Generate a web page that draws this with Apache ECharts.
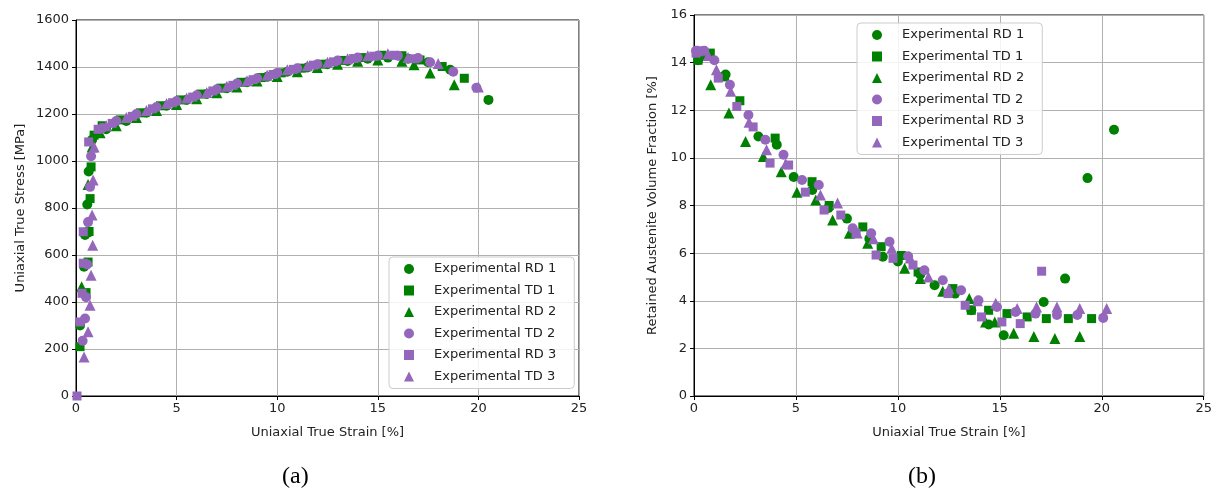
<!DOCTYPE html>
<html>
<head>
<meta charset="utf-8">
<title>Stress strain and retained austenite</title>
<script src="https://cdn.jsdelivr.net/npm/echarts@6.0.0/dist/echarts.min.js"></script>
<style>
  html, body { margin: 0; padding: 0; background: #fff; }
  #chart { width: 1215px; height: 492px; }
</style>
</head>
<body>
<div id="chart"></div>
<script>
  // series names, colours, markers
  var names = ['Experimental RD 1', 'Experimental TD 1', 'Experimental RD 2',
               'Experimental TD 2', 'Experimental RD 3', 'Experimental TD 3']
  var colors = ['#008000', '#008000', '#008000', '#9467bd', '#9467bd', '#9467bd']
  var symbols = ['circle', 'rect', 'triangle', 'circle', 'rect', 'triangle']

  var xTicks = [0, 5, 10, 15, 20, 25]
  var stressTicks = [0, 200, 400, 600, 800, 1000, 1200, 1400, 1600]
  var fractionTicks = [0, 2, 4, 6, 8, 10, 12, 14, 16]

  // (a) uniaxial true strain [%], true stress [MPa]
  var stressRD1 = [[0.2, 300], [0.4, 550], [0.45, 685], [0.56, 815], [0.63, 955], [0.8, 1090],
    [1.5, 1135], [2.5, 1170], [3.5, 1205], [4.5, 1235], [5.5, 1260], [6.5, 1285], [7.5, 1310],
    [8.5, 1335], [9.5, 1358], [10.5, 1380], [11.5, 1398], [12.5, 1412], [13.5, 1426], [14.5, 1435],
    [15.5, 1440], [16.5, 1435], [17.5, 1420], [18.6, 1388], [20.5, 1260]]
  var stressTD1 = [[0.2, 210], [0.5, 440], [0.6, 570], [0.65, 700], [0.7, 840], [0.75, 975], [0.9, 1110],
    [1.3, 1150], [2.2, 1175], [3.2, 1205], [4.2, 1235], [5.2, 1260], [6.2, 1285], [7.2, 1310],
    [8.2, 1335], [9.2, 1355], [10.2, 1375], [11.2, 1395], [12.2, 1412], [13.2, 1428], [14.2, 1440],
    [15.2, 1450], [16.2, 1448], [17.1, 1430], [18.2, 1402], [19.3, 1352]]
  var stressRD2 = [[0.28, 465], [0.5, 700], [0.6, 900], [0.8, 1060], [1.2, 1120], [2.0, 1150],
    [3.0, 1185], [4.0, 1215], [5.0, 1240], [6.0, 1265], [7.0, 1290], [8.0, 1315], [9.0, 1340],
    [10.0, 1360], [11.0, 1380], [12.0, 1398], [13.0, 1412], [14.0, 1425], [15.0, 1430], [16.2, 1425],
    [16.8, 1410], [17.6, 1374], [18.8, 1324]]
  var stressTD2 = [[0.33, 235], [0.45, 330], [0.5, 420], [0.55, 560], [0.6, 740], [0.7, 890], [0.75, 1020],
    [1.3, 1140], [2.0, 1170], [3.0, 1200], [4.0, 1230], [5.0, 1255], [6.0, 1280], [7.0, 1305],
    [8.0, 1330], [9.0, 1352], [10.0, 1375], [11.0, 1395], [12.0, 1412], [13.0, 1428], [14.0, 1440],
    [15.0, 1448], [16.0, 1448], [17.0, 1438], [17.6, 1420], [18.75, 1380], [19.9, 1312]]
  var stressRD3 = [[0.05, 0], [0.2, 315], [0.3, 437], [0.36, 565], [0.36, 699], [0.63, 1081],
    [1.1, 1135], [1.8, 1160], [2.8, 1190], [3.8, 1222], [4.8, 1248], [5.8, 1272], [6.8, 1298],
    [7.8, 1322], [8.8, 1346], [9.8, 1368], [10.8, 1390], [11.8, 1408], [12.8, 1422], [13.8, 1436],
    [14.8, 1446], [15.8, 1450], [16.8, 1435]]
  var stressTD3 = [[0.4, 166], [0.6, 273], [0.7, 386], [0.75, 514], [0.83, 642], [0.8, 770], [0.85, 919],
    [0.9, 1060], [1.5, 1150], [2.5, 1185], [3.5, 1215], [4.5, 1245], [5.5, 1268], [6.5, 1292],
    [7.5, 1318], [8.5, 1342], [9.5, 1365], [10.5, 1388], [11.5, 1405], [12.5, 1420], [13.5, 1435],
    [14.5, 1448], [15.5, 1456], [16.5, 1440], [18.0, 1415], [20.0, 1315]]

  // (b) uniaxial true strain [%], retained austenite volume fraction [%]
  var fractionRD1 = [[0.2, 14.1], [0.6, 14.3], [1.55, 13.5], [3.16, 10.9], [4.06, 10.55], [4.89, 9.2],
    [5.8, 8.65], [6.6, 7.9], [7.5, 7.45], [8.6, 6.6], [9.26, 5.85], [10.0, 5.65], [11.1, 5.1],
    [11.8, 4.65], [12.8, 4.3], [13.6, 3.6], [14.45, 3.0], [15.19, 2.55], [17.15, 3.95], [18.2, 4.93],
    [19.3, 9.15], [20.6, 11.18]]
  var fractionTD1 = [[0.2, 14.1], [0.8, 14.4], [1.5, 13.4], [2.25, 12.4], [3.98, 10.83], [5.79, 9.0],
    [6.63, 8.0], [8.28, 7.1], [9.18, 6.27], [10.17, 5.9], [10.99, 5.21], [12.7, 4.51], [13.6, 3.6],
    [14.45, 3.6], [15.35, 3.46], [16.34, 3.32], [17.28, 3.25], [18.36, 3.25], [19.5, 3.25]]
  var fractionRD2 = [[0.3, 14.3], [0.82, 13.07], [1.71, 11.88], [2.53, 10.69], [3.4, 10.06], [4.28, 9.42],
    [5.05, 8.56], [5.97, 8.23], [6.8, 7.39], [7.62, 6.83], [8.52, 6.41], [10.33, 5.36], [11.1, 4.93],
    [12.2, 4.4], [13.5, 4.09], [14.3, 3.11], [14.75, 3.11], [15.68, 2.64], [16.67, 2.5], [17.7, 2.41],
    [18.92, 2.5]]
  var fractionTD2 = [[0.1, 14.5], [0.5, 14.5], [1.0, 14.1], [1.76, 13.07], [2.67, 11.8], [3.5, 10.76],
    [4.39, 10.13], [5.3, 9.07], [6.12, 8.86], [7.78, 7.04], [8.69, 6.83], [9.59, 6.48], [10.5, 5.87],
    [11.3, 5.28], [12.2, 4.86], [13.1, 4.44], [13.95, 4.02], [14.86, 3.74], [15.77, 3.53], [16.75, 3.46],
    [17.8, 3.4], [18.8, 3.4], [20.07, 3.28]]
  var fractionRD3 = [[0.1, 14.4], [0.4, 14.5], [1.19, 13.35], [2.1, 12.16], [2.9, 11.3], [3.73, 9.78],
    [4.64, 9.7], [5.46, 8.56], [6.38, 7.81], [7.2, 7.6], [7.95, 6.83], [8.93, 5.92], [9.76, 5.78],
    [10.74, 5.5], [12.46, 4.3], [13.3, 3.81], [14.1, 3.32], [15.1, 3.11], [16.0, 3.04], [17.05, 5.24]]
  var fractionTD3 = [[0.2, 14.5], [0.7, 14.3], [1.1, 13.7], [1.8, 12.8], [2.7, 11.5], [3.56, 10.34],
    [4.5, 9.75], [6.2, 8.44], [7.04, 8.1], [8.0, 6.85], [8.8, 6.6], [9.7, 6.2], [10.6, 5.8], [11.5, 5.0],
    [12.5, 4.5], [13.9, 4.0], [14.8, 3.9], [15.85, 3.67], [16.8, 3.74], [17.8, 3.74], [18.92, 3.67],
    [20.24, 3.67]]

  var stressData = [stressRD1, stressTD1, stressRD2, stressTD2, stressRD3, stressTD3]
  var fractionData = [fractionRD1, fractionTD1, fractionRD2, fractionTD2, fractionRD3, fractionTD3]

  var font = 'DejaVu Sans'
  var textColor = '#222'

  function xAxisOf(gridIndex) {
    return {
      type: 'value', gridIndex: gridIndex,
      min: xTicks[0], max: xTicks[xTicks.length - 1], interval: 5,
      name: 'Uniaxial True Strain [%]', nameLocation: 'middle', nameGap: 30,
      nameTextStyle: { fontFamily: font, fontSize: 13, color: textColor },
      axisLine: { show: true, onZero: false, lineStyle: { color: '#000', width: 1 } },
      axisTick: { show: true, length: 4, lineStyle: { color: '#000' } },
      axisLabel: { fontFamily: font, fontSize: 13, color: textColor, margin: 6 },
      splitLine: { show: true, lineStyle: { color: '#b0b0b0', width: 1 } }
    }
  }

  function yAxisOf(gridIndex, ticks, title, gap) {
    return {
      type: 'value', gridIndex: gridIndex,
      min: ticks[0], max: ticks[ticks.length - 1], interval: ticks[1] - ticks[0],
      name: title, nameLocation: 'middle', nameGap: gap,
      nameTextStyle: { fontFamily: font, fontSize: 13, color: textColor },
      axisLine: { show: true, onZero: false, lineStyle: { color: '#000', width: 1 } },
      axisTick: { show: true, length: 4, lineStyle: { color: '#000' } },
      axisLabel: { fontFamily: font, fontSize: 13, color: textColor, margin: 7,
        formatter: function (v) { return String(v) } },
      splitLine: { show: true, lineStyle: { color: '#b0b0b0', width: 1 } }
    }
  }

  function legendOf(left, top) {
    return {
      orient: 'vertical', left: left, top: top,
      padding: [5, 18, 5, 15], itemGap: 7.5, itemWidth: 10, itemHeight: 10,
      backgroundColor: 'rgba(255,255,255,0.85)', borderColor: '#cccccc', borderWidth: 1, borderRadius: 4,
      textStyle: { fontFamily: font, fontSize: 13, color: textColor, lineHeight: 14, padding: [0, 0, 0, 15] },
      data: names.map(function (n, i) {
        return { name: n, icon: symbols[i], itemStyle: { color: colors[i] } }
      })
    }
  }

  var symbolSizes = { circle: 10, rect: 9, triangle: 11 }
  var series = []
  stressData.forEach(function (d, i) {
    series.push({
      name: names[i], type: 'scatter', xAxisIndex: 0, yAxisIndex: 0,
      symbol: symbols[i], symbolSize: symbolSizes[symbols[i]],
      itemStyle: { color: colors[i], opacity: 1 }, data: d
    })
  })
  fractionData.forEach(function (d, i) {
    series.push({
      name: names[i], type: 'scatter', xAxisIndex: 1, yAxisIndex: 1,
      symbol: symbols[i], symbolSize: symbolSizes[symbols[i]],
      itemStyle: { color: colors[i], opacity: 1 }, data: d
    })
  })

  var chart = echarts.init(document.getElementById('chart'), null, { renderer: 'canvas' })
  chart.setOption({
    animation: false,
    backgroundColor: '#fff',
    grid: [
      { left: 76, right: 636, top: 20, bottom: 96, show: true, borderColor: '#000', borderWidth: 1 },
      { left: 694, right: 11, top: 15, bottom: 96, show: true, borderColor: '#000', borderWidth: 1 }
    ],
    xAxis: [xAxisOf(0), xAxisOf(1)],
    yAxis: [
      yAxisOf(0, stressTicks, 'Uniaxial True Stress [MPa]', 49),
      yAxisOf(1, fractionTicks, 'Retained Austenite Volume Fraction [%]', 35)
    ],
    legend: [legendOf(389, 257), legendOf(857, 23)],
    graphic: [
      { type: 'text', left: 282, top: 465, style: { text: '(a)', fontFamily: 'Liberation Serif', fontSize: 24, fill: '#000' } },
      { type: 'text', left: 908, top: 465, style: { text: '(b)', fontFamily: 'Liberation Serif', fontSize: 24, fill: '#000' } }
    ],
    series: series
  })
</script>
</body>
</html>
